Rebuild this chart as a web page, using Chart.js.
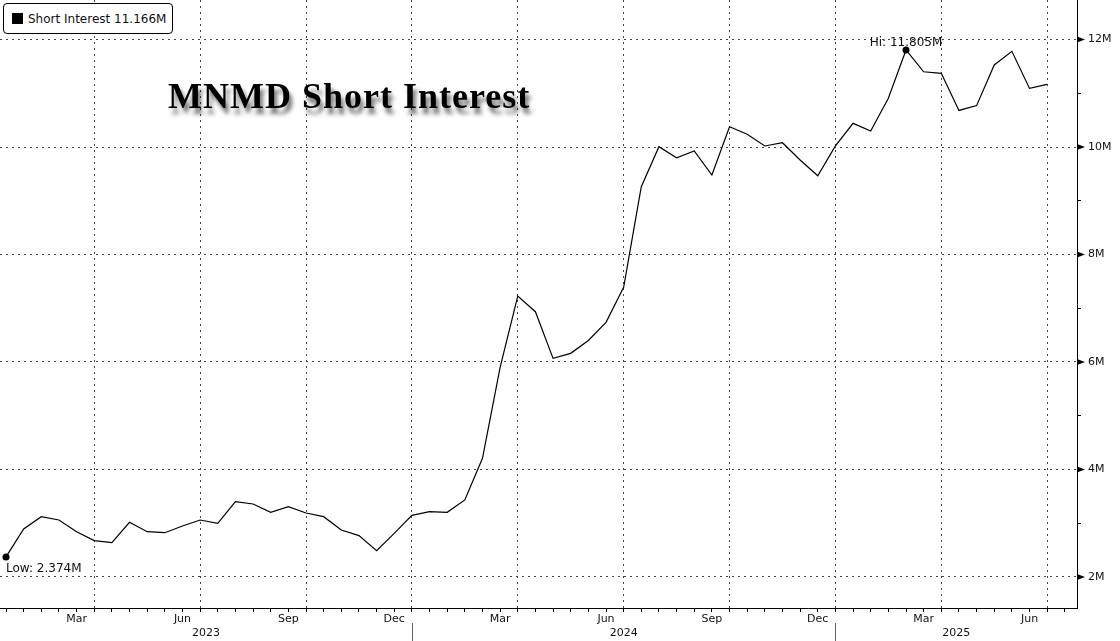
<!DOCTYPE html>
<html>
<head>
<meta charset="utf-8">
<script src="https://cdn.jsdelivr.net/npm/chart.js@4.4.1/dist/chart.umd.min.js"></script>
<style>
  body { margin: 0; background: #fff; }
  #wrap { position: relative; width: 1120px; height: 641px; }
  #legend {
    position: absolute; left: 3px; top: 3px; width: 168px; height: 29px;
    border: 1px solid #000; border-radius: 4px; background: #fff;
    display: flex; align-items: center; font: 12px 'DejaVu Sans'; color: #111;
  }
  #legend span.sw { display: inline-block; width: 11px; height: 11px; background: #000; margin: 0 5px 0 8px; }
  #title {
    position: absolute; left: 168px; top: 75px; line-height: 36px;
    font: bold 36px 'Liberation Serif'; letter-spacing: 1px; color: #000;
    text-shadow: 3px 6px 4px rgba(0,0,0,0.55);
    white-space: nowrap;
  }
</style>
</head>
<body>
<div id="wrap">
  <canvas id="siChart" width="1120" height="641"></canvas>
  <div id="legend"><span class="sw"></span><span id="legendText"></span></div>
  <div id="title">MNMD Short Interest</div>
</div>
<script>
// semi-monthly settlement dates
var dates = ["2023-01-13","2023-01-31","2023-02-15","2023-02-28","2023-03-15","2023-03-31","2023-04-14","2023-04-28",
  "2023-05-15","2023-05-31","2023-06-15","2023-06-30","2023-07-14","2023-07-31","2023-08-15","2023-08-31",
  "2023-09-15","2023-09-29","2023-10-13","2023-10-31","2023-11-15","2023-11-30","2023-12-15","2023-12-29",
  "2024-01-12","2024-01-31","2024-02-15","2024-02-29","2024-03-15","2024-03-28","2024-04-15","2024-04-30",
  "2024-05-15","2024-05-31","2024-06-14","2024-06-28","2024-07-15","2024-07-31","2024-08-15","2024-08-30",
  "2024-09-13","2024-09-30","2024-10-15","2024-10-31","2024-11-15","2024-11-29","2024-12-13","2024-12-31",
  "2025-01-15","2025-01-31","2025-02-14","2025-02-28","2025-03-14","2025-03-31","2025-04-15","2025-04-30",
  "2025-05-15","2025-05-30","2025-06-13","2025-06-30"];

// short interest, millions of shares
var shortInterest = [2.374, 2.893, 3.122, 3.06, 2.843, 2.676, 2.64, 3.017, 2.843, 2.824,
  2.949, 3.06, 2.998, 3.40, 3.358, 3.203, 3.308, 3.19, 3.122, 2.874,
  2.769, 2.49, 2.812, 3.147, 3.215, 3.203, 3.433, 4.208, 5.9, 7.228,
  6.936, 6.068, 6.161, 6.40, 6.738, 7.39, 9.262, 10.006, 9.80, 9.926,
  9.479, 10.378, 10.236, 10.019, 10.08, 9.758, 9.466, 10.02, 10.44, 10.298,
  10.906, 11.805, 11.40, 11.37, 10.68, 10.77, 11.526, 11.78, 11.09, 11.166];

var monthLabels = ["Mar","Jun","Sep","Dec","Mar","Jun","Sep","Dec","Mar","Jun"];
var monthIdx = [4, 10, 16, 22, 28, 34, 40, 46, 52, 58];
var quarterEnds = [5, 11, 17, 23, 29, 35, 41, 47, 53, 59];
var years = ["2023", "2024", "2025"];
var yearBreaks = [23, 47];
var yTicks = [2, 3, 4, 5, 6, 7, 8, 9, 10, 11, 12];

var xMin = -0.34, xMax = 60.69;
var lastVal = shortInterest[shortInterest.length - 1];
document.getElementById("legendText").textContent = "Short Interest " + lastVal.toFixed(3) + "M";

var hiIdx = shortInterest.indexOf(Math.max.apply(null, shortInterest));
var loIdx = shortInterest.indexOf(Math.min.apply(null, shortInterest));

var points = shortInterest.map(function (v, i) { return { x: i, y: v }; });

function noPad(s) {
  s.paddingTop = 0; s.paddingBottom = 0; s.paddingLeft = 0; s.paddingRight = 0;
}

var extras = {
  id: "extras",
  afterDraw: function (chart) {
    var ctx = chart.ctx, xs = chart.scales.x, ys = chart.scales.y;
    var area = chart.chartArea;
    ctx.save();
    // right axis markers
    ctx.fillStyle = "#000";
    yTicks.forEach(function (v) {
      if (v % 2 !== 0) return;
      var py = ys.getPixelForValue(v);
      ctx.beginPath();
      ctx.moveTo(area.right, py - 3);
      ctx.lineTo(area.right + 8, py);
      ctx.lineTo(area.right, py + 3);
      ctx.closePath();
      ctx.fill();
    });
    // year labels and separators
    ctx.font = "11px 'DejaVu Sans'";
    ctx.fillStyle = "#111";
    ctx.textAlign = "center";
    ctx.textBaseline = "middle";
    var bounds = [xMin].concat(yearBreaks).concat([xMax]);
    years.forEach(function (yr, k) {
      var mid = (bounds[k] + bounds[k + 1]) / 2;
      ctx.fillText(yr, xs.getPixelForValue(mid), 633);
    });
    ctx.strokeStyle = "#666";
    ctx.lineWidth = 1;
    yearBreaks.forEach(function (b) {
      var px = Math.round(xs.getPixelForValue(b)) + 0.5;
      ctx.beginPath();
      ctx.moveTo(px, 623);
      ctx.lineTo(px, 641);
      ctx.stroke();
    });
    // hi / low annotations
    ctx.font = "12px 'DejaVu Sans'";
    ctx.fillStyle = "#111";
    var hx = xs.getPixelForValue(hiIdx), hy = ys.getPixelForValue(shortInterest[hiIdx]);
    ctx.textAlign = "center";
    ctx.textBaseline = "alphabetic";
    ctx.fillText("Hi: " + shortInterest[hiIdx].toFixed(3) + "M", hx, hy - 4);
    var lx = xs.getPixelForValue(loIdx), ly = ys.getPixelForValue(shortInterest[loIdx]);
    ctx.textAlign = "left";
    ctx.fillText("Low: " + shortInterest[loIdx].toFixed(3) + "M", lx, ly + 15);
    ctx.restore();
  }
};

var ctx = document.getElementById("siChart");
var siChart = new Chart(ctx, {
  type: "line",
  data: {
    datasets: [{
      label: "Short Interest",
      data: points,
      borderColor: "#000",
      borderWidth: 1.2,
      tension: 0,
      pointRadius: function (c) { return (c.dataIndex === hiIdx || c.dataIndex === loIdx) ? 3.5 : 0; },
      pointBackgroundColor: "#000",
      pointBorderWidth: 0,
      clip: false
    }]
  },
  options: {
    responsive: false,
    animation: false,
    layout: { padding: 0, autoPadding: false },
    plugins: { legend: { display: false }, tooltip: { enabled: false } },
    scales: {
      x: {
        type: "linear",
        min: xMin,
        max: xMax,
        afterBuildTicks: function (s) {
          var t = [];
          for (var i = 0; i <= 60; i++) t.push({ value: i });
          s.ticks = t;
        },
        afterFit: function (s) { s.height = 33; noPad(s); },
        grid: {
          color: function (c) { return quarterEnds.indexOf(c.tick && c.tick.value) >= 0 ? "#444" : "rgba(0,0,0,0)"; },
          tickColor: "#000",
          tickLength: 4,
          lineWidth: 1
        },
        border: { display: true, color: "#000", width: 1, dash: [2, 4] },
        ticks: {
          autoSkip: false,
          maxRotation: 0,
          padding: 1,
          color: "#111",
          font: { family: "DejaVu Sans", size: 11 },
          callback: function (v) {
            var k = monthIdx.indexOf(v);
            return k >= 0 ? monthLabels[k] : "";
          }
        }
      },
      y: {
        position: "right",
        min: 1.423,
        max: 12.735,
        afterBuildTicks: function (s) {
          s.ticks = yTicks.map(function (v) { return { value: v }; });
        },
        afterFit: function (s) { s.width = 43; noPad(s); },
        grid: {
          color: function (c) { return c.tick && c.tick.value % 2 === 0 ? "#444" : "rgba(0,0,0,0)"; },
          tickColor: function (c) { return c.tick && c.tick.value % 2 === 0 ? "rgba(0,0,0,0)" : "#000"; },
          tickLength: 4,
          lineWidth: 1
        },
        border: { display: true, color: "#000", width: 1, dash: [2, 4] },
        ticks: {
          padding: 7,
          color: "#111",
          font: { family: "DejaVu Sans", size: 11 },
          callback: function (v) { return v % 2 === 0 ? v + "M" : ""; }
        }
      }
    }
  },
  plugins: [extras]
});
</script>
</body>
</html>
